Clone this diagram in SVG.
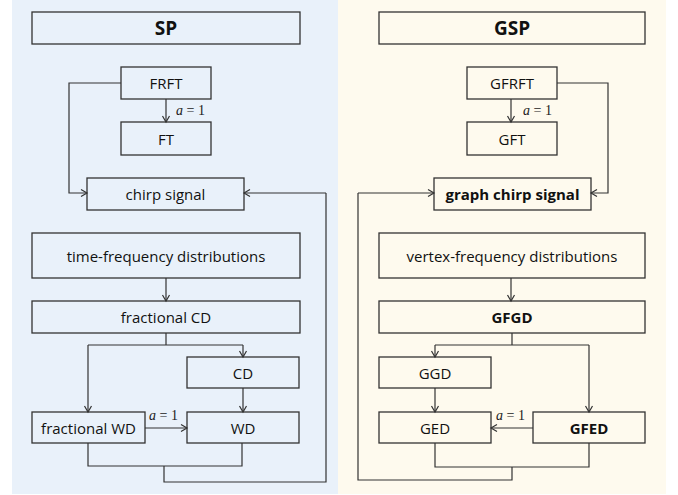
<svg xmlns="http://www.w3.org/2000/svg" width="678" height="495" viewBox="0 0 678 495">
<defs>
<marker id="arr" markerWidth="10" markerHeight="10" refX="8" refY="5" orient="auto" markerUnits="userSpaceOnUse">
<path d="M2,1.5 L8,5 L2,8.5" fill="none" stroke="#333" stroke-width="1.2"/>
</marker>
<style>
.box{fill:none;stroke:#333;stroke-width:1.3}
.t{font-family:"Open Sans","Noto Sans",sans-serif;font-size:15px;fill:#111;text-anchor:middle;dominant-baseline:central}
.b{font-weight:bold}
.h{font-size:19px;font-weight:bold}
.c{fill:none;stroke:#333;stroke-width:1.2}
.a{stroke:#333;stroke-width:1.2;fill:none;marker-end:url(#arr)}
.m{font-family:"Liberation Serif",serif;font-size:14px;fill:#222}
</style>
</defs>
<rect x="12" y="0" width="326" height="494" fill="#e9f1fa"/>
<rect x="338" y="0" width="328" height="494" fill="#fefaee"/>

<g id="SP"><rect class="box" x="32" y="12" width="268" height="32"/><text class="t h" x="166" y="28">SP</text></g>
<g id="FRFT"><rect class="box" x="121" y="67" width="90" height="32"/><text class="t" x="166" y="83">FRFT</text></g>
<g id="FT"><rect class="box" x="121" y="122" width="90" height="33"/><text class="t" x="166" y="138.5">FT</text></g>
<g id="chirp"><rect class="box" x="87" y="178" width="157" height="32"/><text class="t" x="165.5" y="194">chirp signal</text></g>
<g id="tfd"><rect class="box" x="32" y="233" width="268" height="45"/><text class="t" x="166" y="255.5">time-frequency distributions</text></g>
<g id="fCD"><rect class="box" x="32" y="301" width="268" height="32"/><text class="t" x="166" y="317">fractional CD</text></g>
<g id="CD"><rect class="box" x="187" y="357" width="112" height="31"/><text class="t" x="243" y="372.5">CD</text></g>
<g id="fWD"><rect class="box" x="32" y="412" width="113" height="31"/><text class="t" x="88.5" y="427.5">fractional WD</text></g>
<g id="WD"><rect class="box" x="187" y="412" width="112" height="31"/><text class="t" x="243" y="427.5">WD</text></g>

<g id="GSP"><rect class="box" x="379" y="12" width="266" height="32"/><text class="t h" x="512" y="28">GSP</text></g>
<g id="GFRFT"><rect class="box" x="467" y="67" width="90" height="32"/><text class="t" x="512" y="83">GFRFT</text></g>
<g id="GFT"><rect class="box" x="467" y="122" width="90" height="33"/><text class="t" x="512" y="138.5">GFT</text></g>
<g id="gchirp"><rect class="box" x="434" y="178" width="157" height="32"/><text class="t b" x="512.5" y="194">graph chirp signal</text></g>
<g id="vfd"><rect class="box" x="379" y="233" width="266" height="45"/><text class="t" x="512" y="255.5">vertex-frequency distributions</text></g>
<g id="GFGD"><rect class="box" x="379" y="301" width="266" height="32"/><text class="t b" x="512" y="317">GFGD</text></g>
<g id="GGD"><rect class="box" x="379" y="357" width="112" height="31"/><text class="t" x="435" y="372.5">GGD</text></g>
<g id="GED"><rect class="box" x="379" y="412" width="112" height="31"/><text class="t" x="435" y="427.5">GED</text></g>
<g id="GFED"><rect class="box" x="533" y="412" width="112" height="31"/><text class="t b" x="589" y="427.5">GFED</text></g>

<g id="connectors">
<path class="a" d="M166,99 V122"/>
<text class="m" x="176" y="115"><tspan font-style="italic">a</tspan> = 1</text>
<path class="a" d="M121,83 H69 V193 H87"/>
<path class="a" d="M166,278 V301"/>
<path class="c" d="M166,333 V345 M88,345 H243"/>
<path class="a" d="M243,345 V357"/>
<path class="a" d="M88,345 V412"/>
<path class="a" d="M243,388 V412"/>
<path class="a" d="M145,428 H187"/>
<text class="m" x="149" y="420"><tspan font-style="italic">a</tspan> = 1</text>
<path class="c" d="M88,443 V466 H242 V443 M164,466 V482 H326 V193"/>
<path class="a" d="M326,193 H244"/>

<path class="a" d="M511,99 V122"/>
<text class="m" x="523" y="115"><tspan font-style="italic">a</tspan> = 1</text>
<path class="a" d="M557,83 H608 V193 H591"/>
<path class="a" d="M511,278 V301"/>
<path class="c" d="M512,333 V345 M435,345 H589"/>
<path class="a" d="M435,345 V357"/>
<path class="a" d="M589,345 V412"/>
<path class="a" d="M435,388 V412"/>
<path class="a" d="M533,428 H491"/>
<text class="m" x="496" y="420"><tspan font-style="italic">a</tspan> = 1</text>
<path class="c" d="M435,443 V467 H589 V443 M512,467 V480 H358 V193"/>
<path class="a" d="M358,193 H434"/>
</g>
</svg>
